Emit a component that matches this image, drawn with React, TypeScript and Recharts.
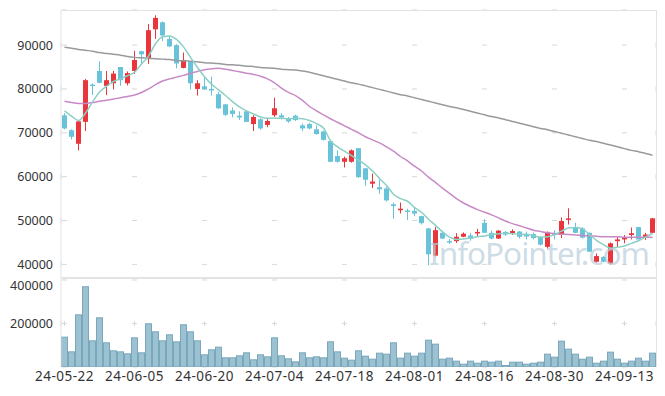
import { ComposedChart, Bar, Line, XAxis, YAxis, CartesianGrid } from 'recharts'

const dates = [
  '24-05-22', '24-05-23', '24-05-24', '24-05-27', '24-05-28', '24-05-29', '24-05-30', '24-05-31', '24-06-03', '24-06-04',
  '24-06-05', '24-06-07', '24-06-10', '24-06-11', '24-06-12', '24-06-13', '24-06-14', '24-06-17', '24-06-18', '24-06-19',
  '24-06-20', '24-06-21', '24-06-24', '24-06-25', '24-06-26', '24-06-27', '24-06-28', '24-07-01', '24-07-02', '24-07-03',
  '24-07-04', '24-07-05', '24-07-08', '24-07-09', '24-07-10', '24-07-11', '24-07-12', '24-07-15', '24-07-16', '24-07-17',
  '24-07-18', '24-07-19', '24-07-22', '24-07-23', '24-07-24', '24-07-25', '24-07-26', '24-07-29', '24-07-30', '24-07-31',
  '24-08-01', '24-08-02', '24-08-05', '24-08-06', '24-08-07', '24-08-08', '24-08-09', '24-08-12', '24-08-13', '24-08-14',
  '24-08-16', '24-08-19', '24-08-20', '24-08-21', '24-08-22', '24-08-23', '24-08-26', '24-08-27', '24-08-28', '24-08-29',
  '24-08-30', '24-09-02', '24-09-03', '24-09-04', '24-09-05', '24-09-06', '24-09-09', '24-09-10', '24-09-11', '24-09-12',
  '24-09-13', '24-09-19', '24-09-20', '24-09-23', '24-09-24',
]

const opens = [
  74000, 70600, 67500, 72500, 81000, 84100, 80700, 81300, 85000, 81300,
  84100, 88600, 86800, 93600, 95200, 91400, 90000, 84800, 86300, 80000,
  80600, 80000, 78800, 76500, 75100, 73900, 74900, 72000, 73100, 71800,
  74000, 74000, 73200, 73900, 71700, 72000, 70800, 70300, 68100, 64700,
  63400, 63400, 66500, 61900, 58400, 57600, 57300, 53700, 52400, 52300,
  52200, 51000, 48200, 42000, 47200, 45300, 45300, 46300, 46600, 47100,
  49500, 47200, 45900, 47400, 47100, 47500, 46700, 46900, 46200, 44000,
  47200, 46700, 50200, 48500, 48200, 47200, 40600, 41700, 40200, 45300,
  45700, 46700, 48500, 46100, 47200,
]
const highs = [
  74500, 70800, 72700, 82300, 81300, 86300, 84100, 84100, 85000, 84000,
  88700, 88700, 94800, 96800, 95400, 92100, 90200, 88300, 86400, 82000,
  82900, 82800, 79300, 76600, 75800, 74900, 75000, 74000, 73300, 73100,
  78000, 74500, 73600, 74100, 72100, 72300, 71700, 70500, 68200, 66000,
  64600, 66200, 66500, 62000, 60700, 59300, 57600, 54100, 54100, 52700,
  53000, 51100, 48300, 48500, 47700, 45800, 47100, 47300, 47200, 48100,
  50300, 47700, 47800, 47600, 48000, 47600, 47500, 47300, 46400, 47500,
  47800, 50700, 52800, 49500, 48500, 47300, 42500, 41900, 45000, 46200,
  46700, 48400, 48600, 47200, 50600,
]
const lows = [
  70800, 68500, 66000, 70400, 78600, 81300, 78600, 79900, 80700, 80800,
  83400, 85700, 85700, 91400, 90900, 89500, 84700, 84700, 79900, 78500,
  79800, 78500, 75400, 73800, 73500, 72900, 72400, 70400, 70700, 71300,
  73600, 73000, 72300, 72700, 70400, 70800, 69600, 68200, 63300, 63200,
  62100, 63200, 59700, 57900, 57400, 56100, 54300, 50400, 51600, 50100,
  51000, 49100, 39800, 41800, 45800, 44700, 44900, 46200, 45400, 46400,
  47200, 45700, 45800, 46500, 46700, 45900, 45700, 45700, 44300, 43600,
  45700, 46000, 49100, 47100, 45900, 42800, 40400, 40500, 39900, 44000,
  44800, 45700, 45600, 45600, 47100,
]
const closes = [
  71000, 69100, 72600, 82000, 80800, 81400, 82000, 83500, 82000, 83600,
  86600, 87900, 93400, 96200, 92200, 89700, 85800, 86600, 81300, 81300,
  79900, 79900, 75600, 74100, 74300, 73500, 72500, 73600, 71000, 72700,
  75600, 73500, 72600, 72900, 71000, 71000, 69700, 68400, 63400, 63400,
  64200, 66000, 59900, 59300, 58900, 57100, 54600, 53300, 52700, 52000,
  51600, 49400, 42300, 47800, 45900, 45000, 46300, 47000, 45900, 47400,
  47200, 45900, 47700, 46800, 47600, 46300, 46500, 46000, 44500, 47400,
  46700, 49900, 50500, 47200, 46100, 42900, 41900, 40600, 44800, 45700,
  46200, 47100, 45700, 46800, 50500,
]
const volumes = [
  139500, 72000, 242000, 371000, 122600, 228400, 113400, 76700, 72000, 62900,
  136400, 67500, 200800, 164000, 122600, 150200, 118000, 196200, 164000, 122600,
  58300, 81200, 93500, 44500, 44500, 53700, 67500, 35300, 58300, 49100,
  136400, 53700, 39900, 26100, 67500, 44500, 49100, 44500, 118000, 72000,
  42900, 33700, 76700, 52100, 38300, 65900, 61300, 113400, 42900, 65900,
  52100, 65900, 125700, 107300, 38300, 42900, 29100, 15300, 29100, 19900,
  29100, 24500, 29100, 9200, 24500, 24500, 15300, 19900, 24500, 61300,
  47500, 121100, 84300, 61300, 38300, 47500, 19900, 29100, 70500, 38300,
  19900, 29100, 42900, 29100, 65900,
]
const ma5 = [
  75000, 73800, 72800, 74500, 77000, 79300, 80600, 81700, 82300, 83000,
  83800, 85700, 87500, 90300, 91900, 92100, 91300, 89600, 87200, 84900,
  82800, 81100, 79800, 78500, 77100, 75900, 75000, 74300, 73600, 73300,
  73300, 73300, 73200, 73300, 73200, 72800, 72100, 71100, 68200, 66800,
  65800, 64800, 63800, 62700, 61300, 59600, 58000, 56000, 55000, 54400,
  53000, 51900, 50300, 48900, 47400, 46200, 45700, 45800, 46000, 46300,
  46500, 46800, 47000, 47100, 47000, 46900, 46900, 46500, 46200, 46300,
  46800, 47600, 48300, 48400, 48100, 46800, 45500, 44500, 43700, 43900,
  44200, 44800, 45400, 46200, 47100,
]
const ma20 = [
  77200, 76900, 76700, 76700, 76900, 77200, 77400, 77700, 78000, 78300,
  78600, 79200, 80000, 81000, 81800, 82300, 82700, 83100, 83600, 84000,
  84400, 84600, 84700, 84500, 84200, 83900, 83600, 83300, 82900, 82300,
  81400, 80200, 79200, 78500, 77400, 76000, 75000, 74100, 73200, 72400,
  71600, 70800, 70000, 69100, 68400, 67700, 66800, 65800, 64600, 63600,
  62400, 61300, 59900, 58700, 57400, 56200, 55000, 54000, 53200, 52500,
  51900, 51300, 50600, 49900, 49300, 48800, 48300, 47800, 47500, 47200,
  47000, 46900, 46800, 46700, 46600, 46500, 46400, 46300, 46300, 46300,
  46200, 46200, 46200, 46200, 46200,
]
const ma120 = [
  89500, 89300, 89000, 88800, 88600, 88300, 88100, 87900, 87700, 87400,
  87200, 87100, 87000, 86900, 86800, 86700, 86500, 86400, 86300, 86200,
  86000, 85900, 85800, 85600, 85500, 85400, 85200, 85100, 84900, 84800,
  84700, 84500, 84400, 84300, 84100, 83800, 83400, 83000, 82600, 82200,
  81800, 81400, 81100, 80700, 80300, 79900, 79500, 79100, 78700, 78400,
  78000, 77600, 77200, 76800, 76400, 76000, 75700, 75300, 74900, 74500,
  74100, 73700, 73400, 73000, 72600, 72200, 71800, 71400, 71000, 70700,
  70300, 69900, 69500, 69100, 68700, 68300, 68000, 67600, 67200, 66800,
  66400, 66000, 65700, 65300, 64900,
]

const priceTicks = [40000, 50000, 60000, 70000, 80000, 90000]
const volumeTicks = [200000, 400000]
const dateTicks = dates.filter((_, i) => i % 10 === 0)

const rows = dates.map((date, i) => ({
  date,
  open: opens[i], high: highs[i], low: lows[i], close: closes[i],
  volume: volumes[i], ma5: ma5[i], ma20: ma20[i], ma120: ma120[i],
}))

const FONT = '"Noto Sans", sans-serif'
const RED = '#e8363c'
const BLUE = '#68c2da'
const GRID = '#d8d8d8'
const FRAME = '#e3e3e3'

const CHART_W = 649
const AXIS_W = 53
const PLOT_W = 595
const PRICE_PLOT_H = 268
const PRICE_DOMAIN: [number, number] = [36900, 98000]
const VOL_PLOT_H = 89
const VOL_DOMAIN: [number, number] = [0, 409000]

// grid is drawn as small "+" marks at tick crossings, via dash patterns
const bandStep = PLOT_W / dates.length
const hDash = `5 ${bandStep * 10 - 5}`
const hOffset = bandStep * 10 - (bandStep / 2 - 2.5)
const pxPerPrice = PRICE_PLOT_H / (PRICE_DOMAIN[1] - PRICE_DOMAIN[0])
const priceStep = 10000 * pxPerPrice
const firstPriceTick = (PRICE_DOMAIN[1] - priceTicks[priceTicks.length - 1]) * pxPerPrice
const vDashPrice = `5 ${priceStep - 5}`
const vOffsetPrice = priceStep - (firstPriceTick - 2.5)
const volTickPx = (VOL_DOMAIN[1] - volumeTicks[0]) * (VOL_PLOT_H / (VOL_DOMAIN[1] - VOL_DOMAIN[0]))
const vDashVol = `5 ${VOL_PLOT_H * 4}`
const vOffsetVol = VOL_PLOT_H * 4 + 5 - (volTickPx - 2.5)

type ShapeProps = {
  x?: number; y?: number; width?: number; height?: number
  payload?: { open: number; high: number; low: number; close: number }
}

function Candle({ x = 0, y = 0, width = 0, height = 0, payload }: ShapeProps) {
  if (!payload) return null
  const { open, close, high, low } = payload
  const color = close >= open ? RED : BLUE
  const top = Math.min(y, y + height)
  const span = Math.abs(height)
  const ratio = high === low ? 0 : span / (high - low)
  const toY = (v: number) => top + (high - v) * ratio
  const cx = Math.round(x + width / 2) - 0.5
  const bodyTop = toY(Math.max(open, close))
  const bodyBottom = toY(Math.min(open, close))
  return (
    <g>
      <line x1={cx} x2={cx} y1={top} y2={top + span} stroke={color} strokeWidth={1} />
      <rect x={cx - 2.5} y={bodyTop} width={5} height={Math.max(1.5, bodyBottom - bodyTop)} fill={color} />
    </g>
  )
}

function VolumeBar({ x = 0, y = 0, width = 0, height = 0 }: ShapeProps) {
  if (height <= 0) return null
  return (
    <rect x={x + 0.5} y={y + 0.5} width={width - 1} height={height - 0.5}
      fill="#9cc2d2" stroke="#79a7bb" strokeWidth={1} />
  )
}

export default function App() {
  return (
    <div style={{ position: 'relative', width: CHART_W, height: 381, fontFamily: FONT }}>
      <ComposedChart width={CHART_W} height={2 + PRICE_PLOT_H} data={rows} barCategoryGap={0}
        margin={{ top: 2, right: 1, bottom: 0, left: 0 }}>
        <CartesianGrid vertical={false} stroke={GRID} strokeDasharray={hDash} strokeDashoffset={hOffset} />
        <CartesianGrid horizontal={false} stroke={GRID} strokeDasharray={vDashPrice} strokeDashoffset={vOffsetPrice} />
        <XAxis dataKey="date" ticks={dateTicks} interval={0} height={0} tick={false} axisLine={false} tickLine={false} />
        <YAxis domain={PRICE_DOMAIN} ticks={priceTicks} allowDataOverflow width={AXIS_W}
          axisLine={{ stroke: FRAME }} tickLine={false} tickSize={6} tickMargin={2}
          tick={{ fontSize: 12.5, fill: '#333', fontFamily: FONT }} />
        <Bar dataKey={(d: { low: number; high: number }) => [d.low, d.high]} shape={Candle} isAnimationActive={false} />
        <Line dataKey="ma120" type="monotone" stroke="#9a9a9a" strokeWidth={1.5} dot={false} activeDot={false} isAnimationActive={false} />
        <Line dataKey="ma20" type="monotone" stroke="#c88ac6" strokeWidth={1.5} dot={false} activeDot={false} isAnimationActive={false} />
        <Line dataKey="ma5" type="monotone" stroke="#8ccfc5" strokeWidth={1.5} dot={false} activeDot={false} isAnimationActive={false} />
      </ComposedChart>
      <ComposedChart width={CHART_W} height={VOL_PLOT_H + 22} data={rows} barCategoryGap={0}
        margin={{ top: 0, right: 1, bottom: 0, left: 0 }}>
        <CartesianGrid vertical={false} stroke={GRID} strokeDasharray={hDash} strokeDashoffset={hOffset} />
        <CartesianGrid horizontal={false} stroke={GRID} strokeDasharray={vDashVol} strokeDashoffset={vOffsetVol} />
        <XAxis dataKey="date" ticks={dateTicks} interval={0} height={22} axisLine={false} tickLine={false}
          tickSize={4} tickMargin={0} tick={{ fontSize: 13.5, fill: '#333', fontFamily: FONT, letterSpacing: 0.5 }} />
        <YAxis domain={VOL_DOMAIN} ticks={volumeTicks} allowDataOverflow width={AXIS_W}
          axisLine={{ stroke: FRAME }} tickLine={false} tickSize={6} tickMargin={2}
          tick={{ fontSize: 12.5, fill: '#333', fontFamily: FONT }} />
        <Bar dataKey="volume" shape={VolumeBar} isAnimationActive={false} />
      </ComposedChart>
      <div style={{ position: 'absolute', left: AXIS_W, top: 2, width: PLOT_W, height: 1, background: FRAME }} />
      <div style={{ position: 'absolute', left: AXIS_W + PLOT_W, top: 2, width: 1, height: PRICE_PLOT_H + VOL_PLOT_H, background: FRAME }} />
      <div style={{ position: 'absolute', left: AXIS_W, top: 1 + PRICE_PLOT_H, width: PLOT_W, height: 2, background: FRAME }} />
      <svg width={CHART_W} height={381} style={{ position: 'absolute', left: 0, top: 0, pointerEvents: 'none' }}>
        <text x={421} y={257} fontSize={31.5} letterSpacing={-1} fontFamily={FONT} fill="#b7cdda" fillOpacity={0.7}>InfoPointer.com</text>
      </svg>
    </div>
  )
}
